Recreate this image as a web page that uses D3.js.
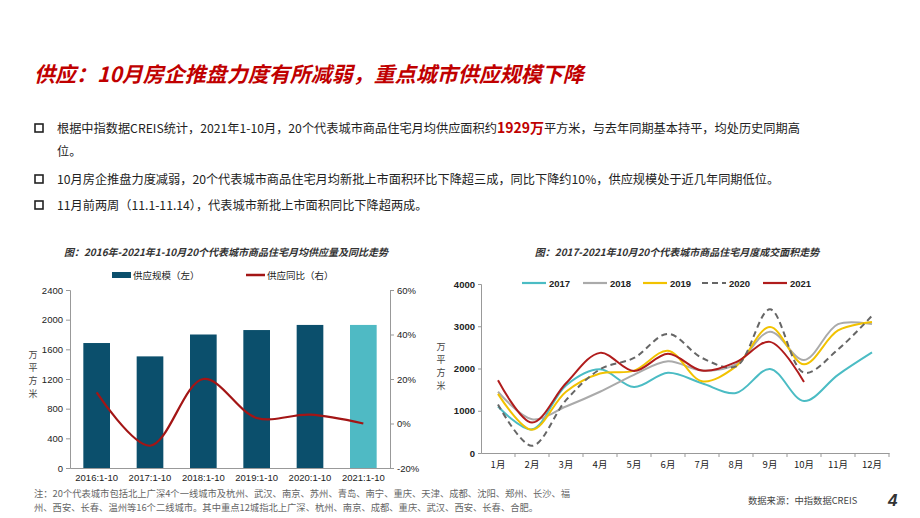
<!DOCTYPE html>
<html><head><meta charset="utf-8">
<script src="https://cdn.jsdelivr.net/npm/d3@7/dist/d3.min.js"></script>
<style>body{margin:0;background:#fff}svg{font-family:"Noto Sans CJK SC","Noto Sans",sans-serif}</style>
</head><body><svg id="c" width="920" height="518"></svg>
<script>
const barCats=["2016:1-10","2017:1-10","2018:1-10","2019:1-10","2020:1-10","2021:1-10"];
const supply=[1685,1505,1800,1860,1929,1929];
const yoy=[14,-10,20,2.5,4,0];
const leftTicks=[0,400,800,1200,1600,2000,2400];
const rightTicks=[-20,0,20,40,60];
const months=["1月","2月","3月","4月","5月","6月","7月","8月","9月","10月","11月","12月"];
const y2017=[1100,560,1600,1980,1560,1900,1650,1420,1990,1230,1850,2380];
const y2018=[1450,800,1100,1450,1850,2170,1950,2100,2870,2200,3050,3050];
const y2019=[1400,550,1450,1880,1950,2420,1700,2050,2980,2100,2900,3100];
const y2020=[1150,170,1250,1980,2250,2820,2250,2050,3400,1900,2450,3250];
const y2021=[1720,720,1650,2370,1940,2350,1950,2150,2630,1680];
const rightYTicks=[0,1000,2000,3000,4000];

const svg=d3.select("#c");
svg.append("text").attr("x",34).attr("y",82).attr("fill","#c00000").attr("font-size",21).attr("font-weight","bold").attr("font-style","italic").text("供应：10月房企推盘力度有所减弱，重点城市供应规模下降");

const bullets=[[133,[["根据中指数据CREIS统计，2021年1-10月，20个代表城市商品住宅月均供应面积约",0],["1929万",1],["平方米，与去年同期基本持平，均处历史同期高",0]]],
 [184,[["10月房企推盘力度减弱，20个代表城市商品住宅月均新批上市面积环比下降超三成，同比下降约10%，供应规模处于近几年同期低位。",0]]],
 [210,[["11月前两周（11.1-11.14），代表城市新批上市面积同比下降超两成。",0]]]];
bullets.forEach(([y,parts])=>{
  svg.append("rect").attr("x",35).attr("y",y-9).attr("width",8).attr("height",8).attr("fill","none").attr("stroke","#222").attr("stroke-width",1.6);
  const t=svg.append("text").attr("x",57).attr("y",y).attr("font-size",12.2).attr("fill","#222");
  parts.forEach(([s,b])=>t.append("tspan").text(s).attr("fill",b?"#c00000":"#222").attr("font-weight",b?"bold":"normal").attr("font-size",b?14:12.2));
});
svg.append("text").attr("x",57).attr("y",156).attr("font-size",12.2).attr("fill","#222").text("位。");

// left chart
svg.append("text").attr("x",226).attr("y",256).attr("text-anchor","middle").attr("font-size",10).attr("font-weight","bold").attr("font-style","italic").attr("fill","#333").text("图：2016年-2021年1-10月20个代表城市商品住宅月均供应量及同比走势");
const lx=d3.scaleBand().domain(barCats).range([70,390]).paddingInner(0.5).paddingOuter(0.25);
const ly=d3.scaleLinear().domain([0,2400]).range([468,290]);
const ry=d3.scaleLinear().domain([-20,60]).range([468,290]);
svg.selectAll(".bar").data(supply).join("rect").attr("x",(d,i)=>lx(barCats[i])).attr("width",lx.bandwidth())
 .attr("y",d=>ly(d)).attr("height",d=>468-ly(d)).attr("fill",(d,i)=>i==5?"#4fbac4":"#0b4f6c");
const la=svg.append("g").attr("transform","translate(70,0)").call(d3.axisLeft(ly).tickValues(leftTicks).tickSize(4).tickFormat(d3.format("d")));
const ra=svg.append("g").attr("transform","translate(390,0)").call(d3.axisRight(ry).tickValues(rightTicks).tickSize(4).tickFormat(d=>d+"%"));
const ba=svg.append("g").attr("transform","translate(0,468)").call(d3.axisBottom(lx).tickSize(0).tickPadding(6));
[la,ra,ba].forEach(a=>{a.selectAll("text").attr("font-size",9.5).attr("fill","#222").attr("font-family","Arial");a.selectAll("path,line").attr("stroke","#999");});
svg.append("path").datum(yoy).attr("fill","none").attr("stroke","#a31515").attr("stroke-width",2.2)
 .attr("d",d3.line().x((d,i)=>lx(barCats[i])+lx.bandwidth()/2).y(d=>ry(d)).curve(d3.curveCatmullRom));
const vl=(x,y0,s)=>s.split("").forEach((c,k)=>svg.append("text").attr("x",x).attr("y",y0+k*13).attr("font-size",9).attr("fill","#444").attr("text-anchor","middle").text(c));
vl(33,358,"万平方米");
svg.append("rect").attr("x",112).attr("y",272).attr("width",19).attr("height",6).attr("fill","#0b4f6c");
svg.append("text").attr("x",133).attr("y",279).attr("font-size",9.5).attr("fill","#222").text("供应规模（左）");
svg.append("line").attr("x1",246).attr("x2",265).attr("y1",275).attr("y2",275).attr("stroke","#a31515").attr("stroke-width",2.5);
svg.append("text").attr("x",267).attr("y",279).attr("font-size",9.5).attr("fill","#222").text("供应同比（右）");

// right chart
svg.append("text").attr("x",677).attr("y",256).attr("text-anchor","middle").attr("font-size",10).attr("font-weight","bold").attr("font-style","italic").attr("fill","#333").text("图：2017-2021年10月20个代表城市商品住宅月度成交面积走势");
const mx=d3.scalePoint().domain(months).range([498,872]);
const my=d3.scaleLinear().domain([0,4000]).range([453,284]);
const rya=svg.append("g").attr("transform","translate(481,0)").call(d3.axisLeft(my).tickValues(rightYTicks).tickSize(3).tickFormat(d3.format("d")));
const mband=d3.scaleBand().domain(months).range([481,889]);
const mxa=svg.append("g").attr("transform","translate(0,453)").call(d3.axisBottom(mband).tickSize(0).tickPadding(8));
mxa.selectAll(".tick").append("line").attr("x1",mband.bandwidth()/2).attr("x2",mband.bandwidth()/2).attr("y2",4);
[rya,mxa].forEach(a=>{a.selectAll("text").attr("font-size",9.5).attr("fill","#222").attr("font-family","Arial");a.selectAll("path,line").attr("stroke","#999");});
rya.selectAll("text").attr("font-weight","bold");
mxa.selectAll("text").attr("font-family","Noto Sans CJK SC");
vl(441,350,"万平方米");
const ser=[["2017",y2017,"#4bbcc4",null],["2018",y2018,"#aaaaaa",null],["2019",y2019,"#f2c200",null],["2020",y2020,"#666","6,4"],["2021",y2021,"#b01c1c",null]];
const line=d3.line().x((d,i)=>mx(months[i])).y(d=>my(d)).curve(d3.curveCatmullRom);
ser.forEach(([n,v,c,da])=>svg.append("path").datum(v).attr("fill","none").attr("stroke",c).attr("stroke-width",2).attr("stroke-dasharray",da).attr("d",line));
const lgx=[522,583,643,702,763];
ser.forEach(([n,v,c,da],i)=>{
  svg.append("line").attr("x1",lgx[i]).attr("x2",lgx[i]+24).attr("y1",283).attr("y2",283).attr("stroke",c).attr("stroke-width",2.2).attr("stroke-dasharray",da);
  svg.append("text").attr("x",lgx[i]+27).attr("y",286.5).attr("font-size",9.5).attr("font-weight","bold").attr("font-family","Arial").attr("fill","#222").text(n);
});

// footer
svg.append("text").attr("x",34).attr("y",497).attr("font-size",9.3).attr("fill","#666").text("注：20个代表城市包括北上广深4个一线城市及杭州、武汉、南京、苏州、青岛、南宁、重庆、天津、成都、沈阳、郑州、长沙、福");
svg.append("text").attr("x",34).attr("y",511).attr("font-size",9.3).attr("fill","#666").text("州、西安、长春、温州等16个二线城市。其中重点12城指北上广深、杭州、南京、成都、重庆、武汉、西安、长春、合肥。");
svg.append("text").attr("x",748).attr("y",504).attr("font-size",9.3).attr("fill","#444").text("数据来源：中指数据CREIS");
svg.append("text").attr("x",888).attr("y",506).attr("font-size",17).attr("font-weight","bold").attr("font-style","italic").attr("fill","#333").attr("font-family","Arial").text("4");
</script></body></html>
